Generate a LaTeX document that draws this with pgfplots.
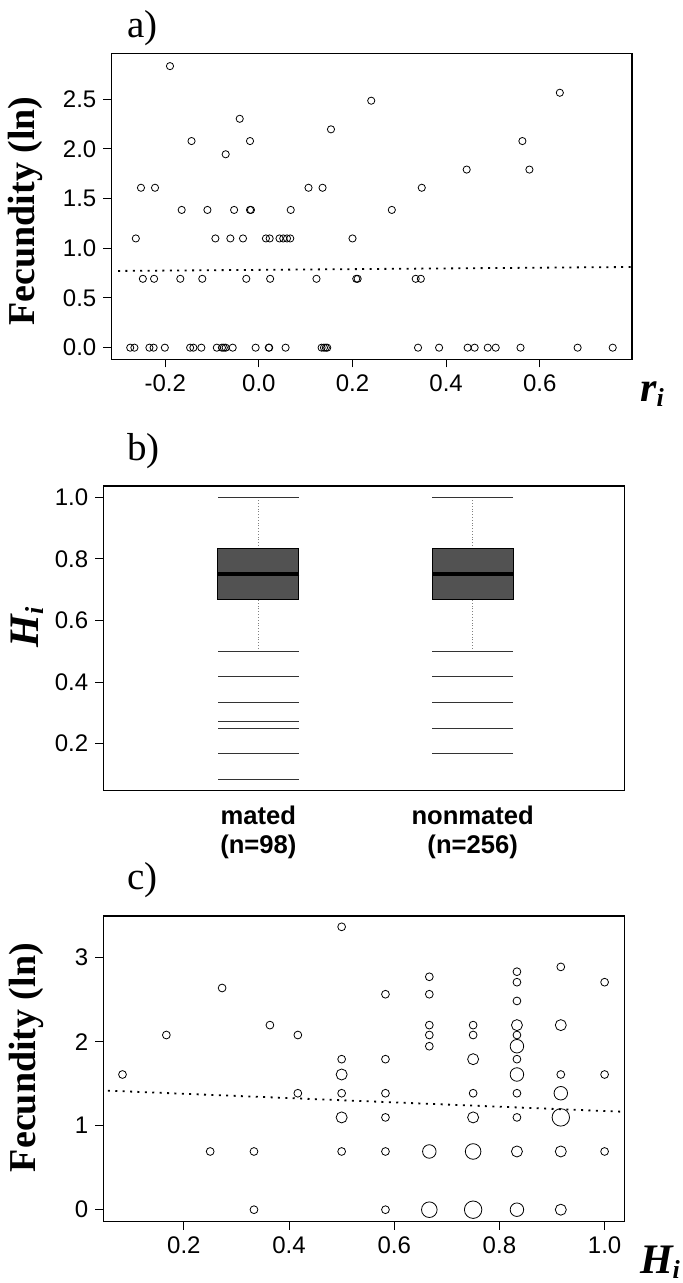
\documentclass[border=0pt]{standalone}
\usepackage{fontspec}
\setmainfont{Liberation Serif}
\setsansfont{Liberation Sans}
\usepackage{pgfplots}
\usepackage{pgfplotstable}
\pgfplotsset{compat=1.18}

\newcommand{\sub}[1]{\raisebox{-0.5ex}{\fontsize{13}{13}\selectfont\bfseries\itshape #1}}
\newcommand{\ri}{{\fontsize{21}{24}\selectfont\bfseries\itshape r}\sub{i}}
\newcommand{\Hi}{{\fontsize{21}{24}\selectfont\bfseries\itshape H}\sub{i}}

% panel a: relatedness r_i vs ln fecundity
\pgfplotstableread{
x y
-0.190 2.833
0.643 2.565
0.240 2.485
-0.041 2.303
0.154 2.197
-0.144 2.079
-0.019 2.079
0.563 2.079
-0.071 1.946
0.444 1.792
0.578 1.792
-0.252 1.609
-0.222 1.609
0.106 1.609
0.136 1.609
0.348 1.609
-0.165 1.386
-0.110 1.386
-0.053 1.386
-0.019 1.386
-0.017 1.386
0.068 1.386
0.284 1.386
-0.263 1.099
-0.093 1.099
-0.061 1.099
-0.034 1.099
0.015 1.099
0.023 1.099
0.044 1.099
0.052 1.099
0.060 1.099
0.067 1.099
0.200 1.099
-0.248 0.693
-0.224 0.693
-0.168 0.693
-0.121 0.693
-0.027 0.693
0.024 0.693
0.123 0.693
0.208 0.693
0.211 0.693
0.335 0.693
0.346 0.693
-0.275 0
-0.266 0
-0.234 0
-0.225 0
-0.201 0
-0.147 0
-0.140 0
-0.123 0
-0.090 0
-0.079 0
-0.075 0
-0.071 0
-0.056 0
-0.007 0
0.021 0
0.022 0
0.057 0
0.134 0
0.139 0
0.143 0
0.146 0
0.340 0
0.385 0
0.446 0
0.461 0
0.489 0
0.506 0
0.559 0
0.681 0
0.756 0
}\dataa

% panel c: heterozygosity H_i vs ln fecundity, n = overlapping points
\pgfplotstableread{
x y n
0.0833 1.6094 1
0.1667 2.0794 1
0.25 0.6931 1
0.2727 2.6391 1
0.3333 0.6931 1
0.3333 0 1
0.3636 2.1972 1
0.4167 2.0794 1
0.4167 1.3863 1
0.5 3.3673 1
0.5 1.7918 1
0.5 1.6094 2
0.5 1.3863 1
0.5 1.0986 2
0.5 0.6931 1
0.5833 2.5649 1
0.5833 1.7918 1
0.5833 1.3863 1
0.5833 1.0986 1
0.5833 0.6931 1
0.5833 0 1
0.6667 2.7726 1
0.6667 2.5649 1
0.6667 2.1972 1
0.6667 2.0794 1
0.6667 1.9459 1
0.6667 0.6931 3
0.6667 0 4
0.75 2.1972 1
0.75 2.0794 1
0.75 1.7918 2
0.75 1.3863 1
0.75 1.0986 2
0.75 0.6931 4
0.75 0 5
0.8333 2.8332 1
0.8333 2.7081 1
0.8333 2.4849 1
0.8333 2.1972 2
0.8333 2.0794 1
0.8333 1.9459 3
0.8333 1.7918 1
0.8333 1.6094 3
0.8333 1.3863 1
0.8333 1.0986 1
0.8333 0.6931 2
0.8333 0 3
0.9167 2.8904 1
0.9167 2.1972 2
0.9167 1.6094 1
0.9167 1.3863 3
0.9167 1.0986 5
0.9167 0.6931 2
0.9167 0 2
1.0 2.7081 1
1.0 1.6094 1
1.0 0.6931 1
}\datac

\pgfplotsset{
  panel/.style={
    scale only axis, anchor=north west, clip=false,
    axis line style={line width=0.6pt},
    tick align=outside, tick pos=left, major tick length=4pt,
    tick style={line width=0.5pt, black},
    tick label style={font=\fontsize{12}{14}\selectfont\sffamily},
    ylabel style={anchor=center},
  },
  dotline/.style={black, line width=0.9pt, dash pattern=on 1pt off 2.7pt},
  whisk/.style={black!50, line width=0.4pt, densely dotted},
  bar/.style={only marks, mark=-, mark size=20.25pt, mark options={line width=0.5pt, draw=black!80}},
}

\begin{document}
\begin{tikzpicture}
\path[use as bounding box] (0pt,0pt) rectangle (341.5pt,-641.5pt);

% ---- a)
\begin{axis}[panel, at={(55.7pt,-26.65pt)}, width=260.35pt, height=153pt,
  xmin=-0.3152, xmax=0.7974, ymin=-0.117, ymax=2.962,
  xtick={-0.2,0,0.2,0.4,0.6}, xticklabels={-0.2,0.0,0.2,0.4,0.6},
  ytick={0,0.5,1,1.5,2,2.5}, yticklabels={0.0,0.5,1.0,1.5,2.0,2.5},
  ylabel={\fontsize{19}{22}\selectfont\bfseries Fecundity (ln)},
  ylabel style={at={(axis description cs:-0.166,0.485)}},
]
\addplot[only marks, mark=o, mark size=1.8pt, black, mark options={line width=0.4pt}] table {\dataa};
\addplot[dotline] coordinates {(-0.301,0.772) (0.797,0.812)};
\end{axis}
\node[font=\fontsize{19.5}{22}\selectfont, anchor=west] at (60pt,-14pt) {a)};
\node at (326pt,-197pt) {\ri};

% ---- b)  boxes: quartiles 0.6667/0.8333, median 0.75, whiskers 0.5..1.0
\begin{axis}[panel, at={(51.6pt,-243pt)}, width=260.7pt, height=152.35pt,
  xmin=0.276, xmax=2.709, ymin=0.0474, ymax=1.0367,
  xtick={1,2}, xticklabels={{mated\\(n=98)},{nonmated\\(n=256)}},
  xtick style={draw=none},
  xticklabel style={align=center, font=\fontsize{12.8}{14.5}\selectfont\sffamily\bfseries},
  ytick={0.2,0.4,0.6,0.8,1}, yticklabels={0.2,0.4,0.6,0.8,1.0},
  ylabel={\Hi},
  ylabel style={at={(axis description cs:-0.146,0.537)}},
]
\addplot[whisk] coordinates {(1,0.8333) (1,1)};
\addplot[whisk] coordinates {(1,0.5) (1,0.6667)};
\addplot[whisk] coordinates {(2,0.8333) (2,1)};
\addplot[whisk] coordinates {(2,0.5) (2,0.6667)};
\addplot[fill=black!68, draw=black, line width=0.5pt]
  coordinates {(0.811,0.6667) (1.189,0.6667) (1.189,0.8333) (0.811,0.8333) (0.811,0.6667)};
\addplot[fill=black!68, draw=black, line width=0.5pt]
  coordinates {(1.811,0.6667) (2.189,0.6667) (2.189,0.8333) (1.811,0.8333) (1.811,0.6667)};
\addplot[only marks, mark=-, mark size=20.5pt, mark options={line width=2pt, draw=black}]
  coordinates {(1,0.75) (2,0.75)};
% whisker caps and outliers, drawn as bars across the box
\addplot[bar] coordinates {(1,1) (1,0.5) (1,0.4167) (1,0.3333) (1,0.2727) (1,0.25) (1,0.1667) (1,0.0833)};
\addplot[bar] coordinates {(2,1) (2,0.5) (2,0.4167) (2,0.3333) (2,0.25) (2,0.1667)};
\end{axis}
\node[font=\fontsize{19.5}{22}\selectfont, anchor=west] at (60pt,-225.5pt) {b)};

% ---- c)
\begin{axis}[panel, at={(51.6pt,-458pt)}, width=260.7pt, height=152.85pt,
  xmin=0.0466, xmax=1.038, ymin=-0.143, ymax=3.496,
  xtick={0.2,0.4,0.6,0.8,1}, xticklabels={0.2,0.4,0.6,0.8,1.0},
  ytick={0,1,2,3}, yticklabels={0,1,2,3},
  ylabel={\fontsize{19}{22}\selectfont\bfseries Fecundity (ln)},
  ylabel style={at={(axis description cs:-0.148,0.537)}},
]
\addplot[scatter, only marks, mark=o, black, mark options={line width=0.4pt},
  scatter/use mapped color={draw=black},
  visualization depends on={1.95*sqrt(\thisrow{n}) \as \msz},
  scatter/@pre marker code/.append style={/tikz/mark size=\msz}]
  table[x=x, y=y] {\datac};
\addplot[dotline] coordinates {(0.0555,1.417) (1.038,1.165)};
\end{axis}
\node[font=\fontsize{19.5}{22}\selectfont, anchor=west] at (60pt,-440.25pt) {c)};
\node at (330pt,-631pt) {\Hi};
\end{tikzpicture}
\end{document}
